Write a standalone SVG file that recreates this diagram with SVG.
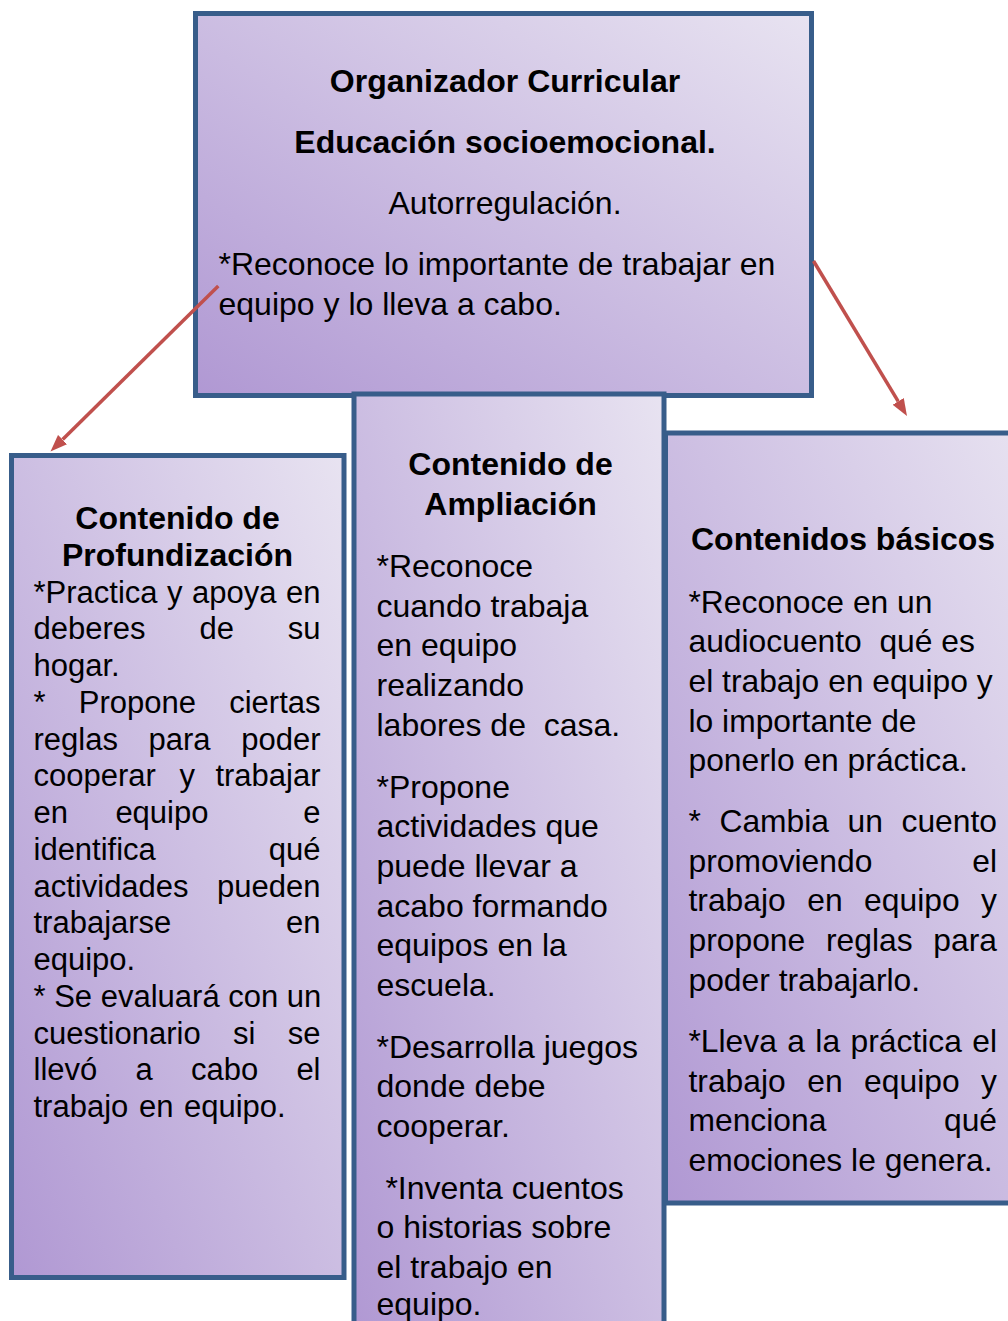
<svg xmlns="http://www.w3.org/2000/svg" width="1008" height="1321" viewBox="0 0 1008 1321">
<defs>
<linearGradient id="lav" x1="0" y1="1" x2="1" y2="0">
<stop offset="0" stop-color="#B098D3"/>
<stop offset="1" stop-color="#E8E3F1"/>
</linearGradient>
<marker id="ah" markerUnits="userSpaceOnUse" markerWidth="17" markerHeight="14" viewBox="0 -7 17 14" refX="0" refY="0" orient="auto">
<path d="M0,-6.5 L17,0 L0,6.5 Z" fill="#C0504D"/>
</marker>
<style>
.box{fill:url(#lav);stroke:#385D8A;stroke-width:5}
.t{font-family:"Liberation Sans",Arial,sans-serif;fill:#000}
.b{font-weight:bold;font-size:32px}
.r32{font-size:32px}
.r31{font-size:31px}
.r318{font-size:31.8px}
.arr{stroke:#C0504D;stroke-width:3.5;fill:none;marker-end:url(#ah)}
</style>
</defs>
<rect width="1008" height="1321" fill="#FFFFFF"/>

<g id="node-organizador">
<rect class="box" x="195.5" y="13.5" width="616" height="382"/>
<text class="t b" x="505" y="91.5" text-anchor="middle">Organizador Curricular</text>
<text class="t b" x="505" y="152.5" text-anchor="middle">Educación socioemocional.</text>
<text class="t r32" x="505" y="213.5" text-anchor="middle">Autorregulación.</text>
<text class="t r32" x="218.5" y="274.5">*Reconoce lo importante de trabajar en</text>
<text class="t r32" x="218.5" y="314.5">equipo y lo lleva a cabo.</text>
</g>

<g id="node-profundizacion">
<rect class="box" x="11.5" y="455.5" width="332.5" height="822"/>
<text class="t b" x="177.5" y="529" text-anchor="middle">Contenido de</text>
<text class="t b" x="177.5" y="565.75" text-anchor="middle">Profundización</text>
<g class="t r31">
<text y="602.5"><tspan x="33.5">*Practica</tspan><tspan x="167.05">y</tspan><tspan x="192.07">apoya</tspan><tspan x="286.03">en</tspan></text>
<text y="639.25"><tspan x="33.5">deberes</tspan><tspan x="199.4">de</tspan><tspan x="287.76">su</tspan></text>
<text x="33.5" y="676">hogar.</text>
<text y="712.75"><tspan x="33.5">*</tspan><tspan x="78.79">Propone</tspan><tspan x="229.2">ciertas</tspan></text>
<text y="749.5"><tspan x="33.5">reglas</tspan><tspan x="148.56">para</tspan><tspan x="241.23">poder</tspan></text>
<text y="786.25"><tspan x="33.5">cooperar</tspan><tspan x="179.5">y</tspan><tspan x="215.41">trabajar</tspan></text>
<text y="823"><tspan x="33.5">en</tspan><tspan x="115.38">equipo</tspan><tspan x="303.26">e</tspan></text>
<text y="859.75"><tspan x="33.5">identifica</tspan><tspan x="268.79">qué</tspan></text>
<text y="896.5"><tspan x="33.5">actividades</tspan><tspan x="217.08">pueden</tspan></text>
<text y="933.25"><tspan x="33.5">trabajarse</tspan><tspan x="286.03">en</tspan></text>
<text x="33.5" y="970">equipo.</text>
<text x="33.5" y="1006.75">* Se evaluará con un</text>
<text y="1043.5"><tspan x="33.5">cuestionario</tspan><tspan x="233">si</tspan><tspan x="287.76">se</tspan></text>
<text y="1080.25"><tspan x="33.5">llevó</tspan><tspan x="135.47">a</tspan><tspan x="190.94">cabo</tspan><tspan x="296.38">el</tspan></text>
<text x="33.5" y="1117" word-spacing="2">trabajo en equipo.</text>
</g>
</g>

<g id="node-ampliacion">
<rect class="box" x="354" y="394" width="310" height="950"/>
<text class="t b" x="510.5" y="475" text-anchor="middle">Contenido de</text>
<text class="t b" x="510.5" y="515" text-anchor="middle">Ampliación</text>
<g class="t r32">
<text x="376.5" y="577">*Reconoce</text>
<text x="376.5" y="616.7">cuando trabaja</text>
<text x="376.5" y="656.4">en equipo</text>
<text x="376.5" y="696.1">realizando</text>
<text x="376.5" y="735.8" xml:space="preserve">labores de  casa.</text>
<text x="376.5" y="797.5">*Propone</text>
<text x="376.5" y="837.2">actividades que</text>
<text x="376.5" y="876.9">puede llevar a</text>
<text x="376.5" y="916.6">acabo formando</text>
<text x="376.5" y="956.3">equipos en la</text>
<text x="376.5" y="996">escuela.</text>
<text x="376.5" y="1057.5">*Desarrolla juegos</text>
<text x="376.5" y="1097.2">donde debe</text>
<text x="376.5" y="1136.9">cooperar.</text>
<text x="376.5" y="1198.5" xml:space="preserve"> *Inventa cuentos</text>
<text x="376.5" y="1238.2">o historias sobre</text>
<text x="376.5" y="1277.9">el trabajo en</text>
<text x="376.5" y="1315">equipo.</text>
</g>
</g>

<g id="node-basicos">
<rect class="box" x="665.5" y="433" width="370" height="770"/>
<text class="t b" x="843" y="550" text-anchor="middle">Contenidos básicos</text>
<g class="t r318">
<text x="688.5" y="612.5">*Reconoce en un</text>
<text x="688.5" y="652.2" xml:space="preserve">audiocuento  qué es</text>
<text x="688.5" y="691.9">el trabajo en equipo y</text>
<text x="688.5" y="731.6">lo importante de</text>
<text x="688.5" y="771.3">ponerlo en práctica.</text>
<text y="832"><tspan x="688.5">*</tspan><tspan x="719.46">Cambia</tspan><tspan x="847.6">un</tspan><tspan x="901.54">cuento</tspan></text>
<text y="871.7"><tspan x="688.5">promoviendo</tspan><tspan x="972.26">el</tspan></text>
<text y="911.4"><tspan x="688.5">trabajo</tspan><tspan x="807.23">en</tspan><tspan x="864.11">equipo</tspan><tspan x="981.1">y</tspan></text>
<text y="951.1"><tspan x="688.5">propone</tspan><tspan x="825.97">reglas</tspan><tspan x="933.37">para</tspan></text>
<text x="688.5" y="990.8">poder trabajarlo.</text>
<text y="1052"><tspan x="688.5">*Lleva</tspan><tspan x="787.28">a</tspan><tspan x="815.37">la</tspan><tspan x="850.52">práctica</tspan><tspan x="972.26">el</tspan></text>
<text y="1091.7"><tspan x="688.5">trabajo</tspan><tspan x="807.23">en</tspan><tspan x="864.11">equipo</tspan><tspan x="981.1">y</tspan></text>
<text y="1131.4"><tspan x="688.5">menciona</tspan><tspan x="943.96">qué</tspan></text>
<text x="688.5" y="1171.1">emociones le genera.</text>
</g>
</g>

<g id="connectors">
<line class="arr" x1="218.3" y1="286" x2="62.6" y2="439.6"/>
<line class="arr" x1="813.5" y1="261" x2="898.2" y2="401.4"/>
</g>
</svg>
